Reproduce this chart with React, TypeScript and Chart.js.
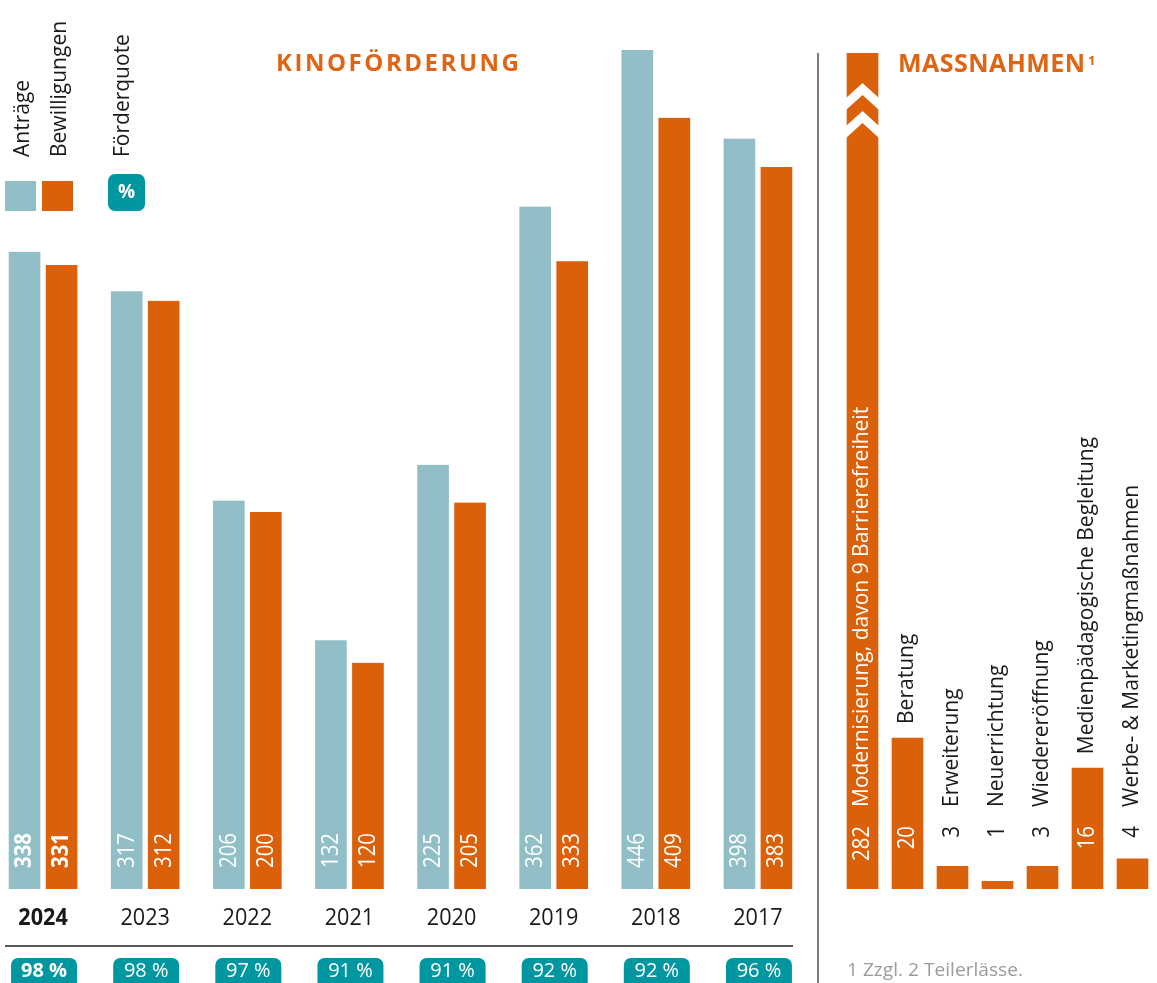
import React, { useEffect, useRef } from 'react';
import { Chart, registerables } from 'chart.js';
Chart.register(...registerables);

const YEARS = ['2024', '2023', '2022', '2021', '2020', '2019', '2018', '2017'];
const ANTRAEGE = [338, 317, 206, 132, 225, 362, 446, 398];
const BEWILLIGUNGEN = [331, 312, 200, 120, 205, 333, 409, 383];
const QUOTE = [98, 98, 97, 91, 91, 92, 92, 96];
const MASSNAHMEN_LABELS = [
  'Modernisierung, davon 9 Barrierefreiheit',
  'Beratung',
  'Erweiterung',
  'Neuerrichtung',
  'Wiedereröffnung',
  'Medienpädagogische Begleitung',
  'Werbe- & Marketingmaßnahmen',
];
const MASSNAHMEN_VALUES = [282, 20, 3, 1, 3, 16, 4];

const TEAL = '#92BFC7';
const ORANGE = '#DB600A';
const TITLE_COLOR = '#DF6514';
const QUOTE_BG = '#0097A1';
const DARK = '#1a1a1a';
const FONT = '"Open Sans", "Noto Sans", sans-serif';
const PI = Math.PI;

type TxtOpts = {
  size: number;
  weight?: number;
  color?: string;
  align?: CanvasTextAlign;
  baseline?: CanvasTextBaseline;
  rot?: number;
  sx?: number;
  width?: number;
};

function txt(ctx: CanvasRenderingContext2D, s: string, x: number, y: number, o: TxtOpts) {
  ctx.save();
  ctx.translate(x, y);
  if (o.rot) ctx.rotate(o.rot);
  ctx.font = `${o.weight || 400} ${o.size}px ${FONT}`;
  ctx.fillStyle = o.color || DARK;
  ctx.textAlign = o.align || 'left';
  ctx.textBaseline = o.baseline || 'alphabetic';
  let sx = o.sx || 1;
  if (o.width) {
    const w = ctx.measureText(s).width;
    sx = o.width / w;
  }
  ctx.scale(sx, 1);
  ctx.fillText(s, 0, 0);
  ctx.restore();
}

function spaced(ctx: CanvasRenderingContext2D, s: string, x: number, y: number, size: number, color: string, target: number) {
  ctx.save();
  ctx.font = `700 ${size}px ${FONT}`;
  (ctx as any).letterSpacing = '0px';
  const w0 = ctx.measureText(s).width;
  const sp = (target - w0) / (s.length - 1);
  (ctx as any).letterSpacing = `${sp}px`;
  ctx.fillStyle = color;
  ctx.textAlign = 'left';
  ctx.textBaseline = 'alphabetic';
  ctx.fillText(s, x, y);
  ctx.restore();
}

function rrect(ctx: CanvasRenderingContext2D, x: number, y: number, w: number, h: number, r: number, color: string) {
  ctx.save();
  ctx.beginPath();
  (ctx as any).roundRect(x, y, w, h, r);
  ctx.fillStyle = color;
  ctx.fill();
  ctx.restore();
}

const LEFT1 = -8;
const WIDTH1 = 817;
const LEFT2 = 800;

export default function App() {
  const r1 = useRef<HTMLCanvasElement | null>(null);
  const r2 = useRef<HTMLCanvasElement | null>(null);

  useEffect(() => {
    const p1 = (x: number) => x - LEFT1;
    const p2 = (x: number) => x - LEFT2;

    const kinoPlugin = {
      id: 'kino',
      afterDraw(chart: any) {
        const ctx: CanvasRenderingContext2D = chart.ctx;
        const xs = chart.scales.x;
        const area = chart.chartArea;
        // values in bars
        [0, 1].forEach((di) => {
          const meta = chart.getDatasetMeta(di);
          meta.data.forEach((el: any, i: number) => {
            const v = chart.data.datasets[di].data[i];
            txt(ctx, String(v), el.x, area.bottom - 21, {
              rot: -PI / 2, size: 24, weight: i === 0 ? 700 : 400, color: '#fff',
              align: 'left', baseline: 'middle', sx: 0.85,
            });
          });
        });
        // years and quotes
        YEARS.forEach((yr, i) => {
          const c = xs.getPixelForValue(i);
          txt(ctx, yr, c, 918, { size: 24, weight: i === 0 ? 700 : 400, align: 'center', baseline: 'middle', sx: 0.9 });
          rrect(ctx, c - 32, 958, 66, 40, 7, QUOTE_BG);
          txt(ctx, `${QUOTE[i]} %`, c + 1, 971, { size: 20, weight: i === 0 ? 700 : 400, color: '#fff', align: 'center', baseline: 'middle' });
        });
        // separator line
        ctx.save();
        ctx.strokeStyle = '#222';
        ctx.lineWidth = 1.5;
        ctx.beginPath();
        ctx.moveTo(p1(5), 946);
        ctx.lineTo(p1(793), 946);
        ctx.stroke();
        ctx.restore();
        // legend
        ctx.fillStyle = TEAL;
        ctx.fillRect(p1(5), 181, 31, 30);
        ctx.fillStyle = ORANGE;
        ctx.fillRect(p1(42), 181, 31, 30);
        rrect(ctx, p1(108), 174, 37, 37, 7, QUOTE_BG);
        txt(ctx, '%', p1(126.5), 193, { size: 19, weight: 700, color: '#fff', align: 'center', baseline: 'middle' });
        txt(ctx, chart.data.datasets[0].label, p1(29), 157, { size: 21, rot: -PI / 2 });
        txt(ctx, chart.data.datasets[1].label, p1(66), 157, { size: 21, rot: -PI / 2 });
        txt(ctx, 'Förderquote', p1(129), 157, { size: 21, rot: -PI / 2 });
        // title
        spaced(ctx, 'KINOFÖRDERUNG', p1(276), 71, 24, TITLE_COLOR, 243);
      },
    };

    const massPlugin = {
      id: 'mass',
      afterDatasetsDraw(chart: any) {
        const ctx: CanvasRenderingContext2D = chart.ctx;
        const el = chart.getDatasetMeta(0).data[0];
        const x0 = el.x - el.width / 2;
        const x1 = el.x + el.width / 2;
        ctx.save();
        ctx.fillStyle = '#fff';
        [83, 111].forEach((a) => {
          ctx.beginPath();
          ctx.moveTo(x0 - 1, a + 15);
          ctx.lineTo(el.x, a);
          ctx.lineTo(x1 + 1, a + 15);
          ctx.lineTo(x1 + 1, a + 27);
          ctx.lineTo(el.x, a + 12);
          ctx.lineTo(x0 - 1, a + 27);
          ctx.closePath();
          ctx.fill();
        });
        ctx.restore();
      },
      afterDraw(chart: any) {
        const ctx: CanvasRenderingContext2D = chart.ctx;
        // vertical separator
        ctx.save();
        ctx.strokeStyle = '#7d7d7d';
        ctx.lineWidth = 2;
        ctx.beginPath();
        ctx.moveTo(p2(818), 53);
        ctx.lineTo(p2(818), 983);
        ctx.stroke();
        ctx.restore();
        // title
        spaced(ctx, 'MASSNAHMEN', p2(898), 72, 25, TITLE_COLOR, 187);
        txt(ctx, '1', p2(1088), 65, { size: 13, weight: 700, color: TITLE_COLOR });
        // footnote
        txt(ctx, '1 Zzgl. 2 Teilerlässe.', p2(847), 976, { size: 18, color: '#9b9b9b', width: 176 });
        // labels
        const meta = chart.getDatasetMeta(0);
        meta.data.forEach((el: any, i: number) => {
          const v = MASSNAHMEN_VALUES[i];
          const lab = MASSNAHMEN_LABELS[i];
          const top = el.y;
          const numEnd = 826;
          const numInside = top < numEnd - 4;
          txt(ctx, String(v), el.x, numEnd, {
            rot: -PI / 2, align: 'right', baseline: 'middle', size: 24, sx: 0.85,
            color: numInside ? '#fff' : DARK,
          });
          ctx.font = `400 21px ${FONT}`;
          const lw = ctx.measureText(lab).width;
          const inside = top < 807 - lw - 10;
          const start = inside ? 807 : Math.min(807, top - 14);
          txt(ctx, lab, el.x, start, {
            rot: -PI / 2, align: 'left', baseline: 'middle', size: 21,
            color: inside ? '#fff' : DARK,
          });
        });
      },
    };

    const c1 = new Chart(r1.current as HTMLCanvasElement, {
      type: 'bar',
      data: {
        labels: YEARS,
        datasets: [
          {
            label: 'Anträge',
            data: ANTRAEGE,
            backgroundColor: TEAL,
            borderColor: '#fff',
            borderWidth: { left: 3, right: 3, top: 0, bottom: 0 },
            borderSkipped: false,
            barThickness: 37,
          },
          {
            label: 'Bewilligungen',
            data: BEWILLIGUNGEN,
            backgroundColor: ORANGE,
            borderColor: '#fff',
            borderWidth: { left: 3, right: 3, top: 0, bottom: 0 },
            borderSkipped: false,
            barThickness: 37,
          },
        ],
      },
      options: {
        responsive: false,
        animation: false,
        layout: { padding: { top: 50, bottom: 94, left: 0, right: 0 } },
        scales: {
          x: { display: false },
          y: { display: false, min: 0, max: 445 },
        },
        plugins: { legend: { display: false }, tooltip: { enabled: false } },
      } as any,
      plugins: [kinoPlugin],
    });

    const c2 = new Chart(r2.current as HTMLCanvasElement, {
      type: 'bar',
      data: {
        labels: MASSNAHMEN_LABELS,
        datasets: [
          {
            label: 'Maßnahmen',
            data: MASSNAHMEN_VALUES,
            backgroundColor: ORANGE,
            borderWidth: 0,
            barThickness: 31,
          },
        ],
      },
      options: {
        responsive: false,
        animation: false,
        layout: { padding: { top: 53, bottom: 94, left: 40, right: 2 } },
        scales: {
          x: { display: false },
          y: { display: false, min: 0, max: 110.7 },
        },
        plugins: { legend: { display: false }, tooltip: { enabled: false } },
      } as any,
      plugins: [massPlugin],
    });

    return () => {
      c1.destroy();
      c2.destroy();
    };
  }, []);

  return (
    <div style={{ position: 'absolute', left: 0, top: 0, width: 1157, height: 983, overflow: 'hidden', background: '#fff' }}>
      <canvas ref={r1} width={WIDTH1} height={983} style={{ position: 'absolute', left: LEFT1, top: 0, width: WIDTH1, height: 983 }} />
      <canvas ref={r2} width={357} height={983} style={{ position: 'absolute', left: LEFT2, top: 0, width: 357, height: 983 }} />
    </div>
  );
}
